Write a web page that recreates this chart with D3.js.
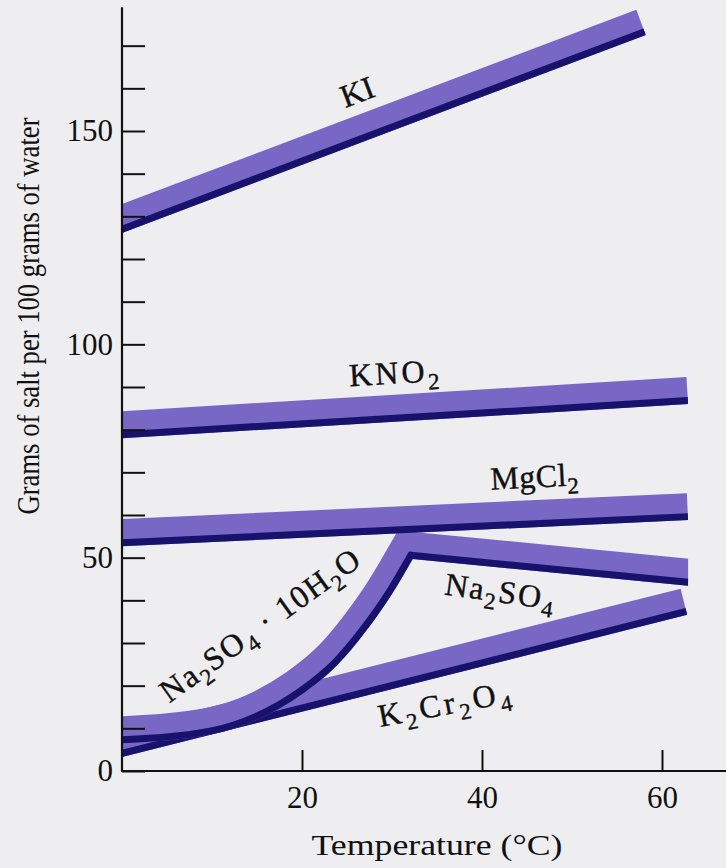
<!DOCTYPE html>
<html>
<head>
<meta charset="utf-8">
<script src="https://cdn.jsdelivr.net/npm/d3@7"></script>
<style>
  html, body { margin: 0; padding: 0; background: #eeeef0; }
  svg { display: block; }
</style>
</head>
<body>
<svg id="chart" width="726" height="868"></svg>
<script>
// solubility readings, [temperature °C, grams per 100 g water] along the lower edge of each band
const KI = [[0, 126.1], [58.2, 172.5]];
const KNO2 = [[0, 78.0], [62.9, 86.0]];
const MgCl2 = [[0, 52.7], [62.9, 58.8]];
const K2Cr2O4 = [[0, 3.3], [62.8, 36.6]];
const Na2SO4_10H2O = [[0, 6.5], [10, 8.6], [15, 12], [20, 18], [24, 25], [27, 32.5], [30, 41.5], [32.3, 49.7]];
const Na2SO4 = [[32.3, 49.7], [62.9, 43.4]];

const yTicks = d3.range(0, 180, 10);
const yTickLabels = [0, 50, 100, 150];
const xTicks = [20, 40, 60];

// label text pieces, "s" marks a subscript
const labelText = {
  KI: [["KI"]],
  KNO2: [["KNO"], ["2", "s"]],
  MgCl2: [["MgCl"], ["2", "s"]],
  hydrate: [["Na"], ["2", "s"], ["SO"], ["4", "s"], [" · 10H"], ["2", "s"], ["O"]],
  Na2SO4: [["Na"], ["2", "s"], ["SO"], ["4", "s"]],
  K2Cr2O4: [["K"], ["2", "s"], ["Cr"], ["2", "s"], ["O"], ["4", "s"]]
};

// where the labels sit (data units), their angle and length
const labelSpots = [
  { key: "KI", at: [24.8, 155.4], angle: -20.7, anchor: "start" },
  { key: "KNO2", at: [25.3, 90.2], angle: -3.3, anchor: "start", len: 90 },
  { key: "MgCl2", at: [41, 65.9], angle: -3, anchor: "start", len: 88 },
  { key: "hydrate", at: [16, 32.1], angle: -35.7, anchor: "middle", len: 238 },
  { key: "Na2SO4", at: [41.8, 39.6], angle: 8, anchor: "middle", len: 110 },
  { key: "K2Cr2O4", at: [28.7, 10.3], angle: -10.7, anchor: "start", len: 134 }
];

const purple = "#7967c5", navy = "#17136c", ink = "#111";
const band = 27, darkBand = 7;
const font = "'Liberation Serif', 'Times New Roman', serif";

const svg = d3.select("#chart");
const x = d3.scaleLinear().domain([0, 60]).range([122, 662]);
const y = d3.scaleLinear().domain([0, 150]).range([771, 131]);

svg.append("rect").attr("width", 726).attr("height", 868).attr("fill", "#eeeef0");

const series = [
  { id: "ki", pts: KI },
  { id: "kno2", pts: KNO2 },
  { id: "k2cr2o4", pts: K2Cr2O4 },
  { id: "na2so4", pts: Na2SO4_10H2O, curve: d3.curveMonotoneX, tail: Na2SO4 },
  { id: "mgcl2", pts: MgCl2 }
];

const defs = svg.append("defs");
const line = d3.line().x(d => x(d[0])).y(d => y(d[1]));

series.forEach(s => {
  let d = line.curve(s.curve || d3.curveLinear)(s.pts);
  let all = s.pts;
  if (s.tail) {
    d += s.tail.slice(1).map(p => `L${x(p[0])},${y(p[1])}`).join("");
    all = s.pts.concat(s.tail.slice(1));
  }
  const first = all[0], last = all[all.length - 1];
  // keep only the side above the line, so the band sits on top of it
  defs.append("clipPath").attr("id", "clip-" + s.id)
    .append("path")
    .attr("d", d + `L${x(last[0])},0L${x(first[0])},0Z`);

  const g = svg.append("g").attr("clip-path", `url(#clip-${s.id})`);
  g.append("path").attr("d", d)
    .attr("fill", "none").attr("stroke", purple)
    .attr("stroke-width", band * 2).attr("stroke-linejoin", "miter")
    .attr("stroke-linecap", "butt");
  g.append("path").attr("d", d)
    .attr("fill", "none").attr("stroke", navy)
    .attr("stroke-width", darkBand * 2).attr("stroke-linejoin", "miter")
    .attr("stroke-linecap", "butt");
});

// labels
labelSpots.forEach(l => {
  const t = svg.append("text")
    .attr("transform", `translate(${x(l.at[0])},${y(l.at[1])}) rotate(${l.angle})`)
    .attr("text-anchor", l.anchor)
    .attr("font-family", font)
    .attr("font-size", 32)
    .attr("fill", ink)
    .attr("stroke", ink).attr("stroke-width", 0.4);
  if (l.len) t.attr("textLength", l.len).attr("lengthAdjust", "spacing");
  let down = false;
  labelText[l.key].forEach(([str, kind]) => {
    const sp = t.append("tspan").text(str);
    if (kind === "s") {
      sp.attr("font-size", 23).attr("dy", down ? 0 : 8);
      down = true;
    } else {
      if (down) sp.attr("dy", -8);
      down = false;
    }
  });
});

// axes
const yAxis = d3.axisLeft(y).tickValues(yTicks).tickSize(-23).tickPadding(9)
  .tickFormat(d => yTickLabels.includes(d) ? d : "");
const gy = svg.append("g").attr("transform", "translate(122,0)").call(yAxis);
const xAxis = d3.axisBottom(x).tickValues(xTicks).tickSize(-21).tickPadding(15);
const gx = svg.append("g").attr("transform", "translate(0,771)").call(xAxis);

[gy, gx].forEach(g => {
  g.select(".domain").remove();
  g.selectAll(".tick line").attr("stroke", ink).attr("stroke-width", 2);
  g.selectAll(".tick text").attr("font-family", font).attr("font-size", 31).attr("fill", ink);
});

svg.append("line").attr("x1", 122).attr("x2", 122).attr("y1", y(179)).attr("y2", 772)
  .attr("stroke", ink).attr("stroke-width", 2.2);
svg.append("line").attr("x1", 121).attr("x2", 726).attr("y1", 771).attr("y2", 771)
  .attr("stroke", ink).attr("stroke-width", 2.2);

svg.append("text")
  .attr("transform", "translate(39,316) rotate(-90)")
  .attr("text-anchor", "middle")
  .attr("font-family", font).attr("font-size", 31).attr("fill", ink)
  .attr("textLength", 397).attr("lengthAdjust", "spacingAndGlyphs")
  .text("Grams of salt per 100 grams of water");

svg.append("text")
  .attr("x", 437).attr("y", 855)
  .attr("text-anchor", "middle")
  .attr("font-family", font).attr("font-size", 30).attr("fill", ink)
  .attr("textLength", 251).attr("lengthAdjust", "spacingAndGlyphs")
  .text("Temperature (°C)");
</script>
</body>
</html>
